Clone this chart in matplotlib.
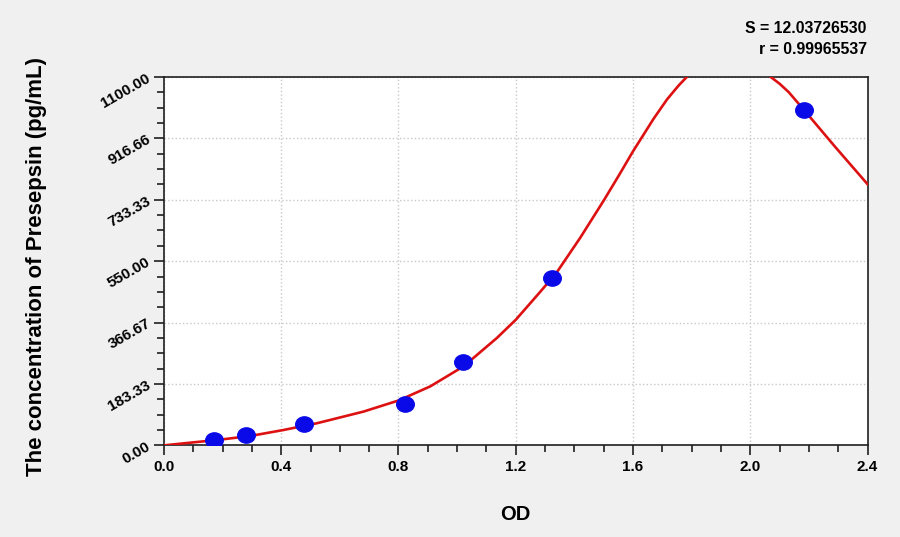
import matplotlib
matplotlib.use("Agg")
import matplotlib.pyplot as plt
from matplotlib.ticker import MultipleLocator, FixedLocator
from matplotlib.markers import MarkerStyle
from matplotlib.transforms import Affine2D

# standards: measured OD vs known concentration
od = [0.171, 0.279, 0.478, 0.822, 1.021, 1.325, 2.182]
conc = [15.625, 31.25, 62.5, 125, 250, 500, 1000]

# fitted curve (goes above the axis top near the peak)
curve_od = [0.0, 0.066, 0.180, 0.294, 0.408, 0.521, 0.567, 0.681, 0.800, 0.908,
            1.022, 1.136, 1.200, 1.284, 1.341, 1.420, 1.500, 1.551, 1.600, 1.670,
            1.716, 1.756, 1.790, 1.860, 1.930, 2.000, 2.061, 2.100, 2.131, 2.182,
            2.290, 2.401]
curve_conc = [0, 6, 16, 28, 46, 66, 76, 101, 134, 176,
              236, 321, 375, 459, 518, 620, 731, 805, 878, 975,
              1033, 1075, 1106, 1150, 1165, 1145, 1106, 1080, 1055, 1003,
              891, 779]

yticks = [0, 183.33, 366.67, 550, 733.33, 916.66, 1100]
ytick_labels = ['0.00', '183.33', '366.67', '550.00', '733.33', '916.66', '1100.00']

plt.rcParams['font.family'] = ['Liberation Sans', 'DejaVu Sans']
plt.rcParams['font.weight'] = 'bold'

fig = plt.figure(figsize=(9, 5.37), dpi=100, facecolor='#f0f0f0')
ax = fig.add_axes([0.1822, 0.1706, 0.7817, 0.686])

ax.plot(curve_od, curve_conc, color='#dd1111', lw=1.9, zorder=3)
dot = MarkerStyle('o', transform=Affine2D().scale(1.15, 1.0))
ax.plot(od, conc, linestyle='none', marker=dot, color='#0a0ae8', ms=11, zorder=4)

ax.set_xlim(0, 2.4)
ax.set_ylim(0, 1100)
ax.xaxis.set_major_locator(MultipleLocator(0.4))
ax.xaxis.set_minor_locator(MultipleLocator(0.1))
ax.yaxis.set_major_locator(FixedLocator(yticks))
ax.yaxis.set_minor_locator(MultipleLocator(1100 / 24))
ax.set_yticklabels(ytick_labels, rotation=30, ha='right', va='center',
                   rotation_mode='anchor', fontsize=11, fontweight='bold')
ax.set_xticklabels(['%.1f' % v for v in ax.get_xticks()], fontsize=11, fontweight='bold')
ax.tick_params(which='major', length=7, width=1.2, direction='out', color='#202020')
ax.tick_params(which='minor', length=5, width=1.2, direction='out', color='#202020')
ax.grid(True, which='major', color='#c8c8c8', linestyle=':', linewidth=1)
for s in ax.spines.values():
    s.set_linewidth(1.2)
    s.set_color('#202020')

ax.set_xlabel('OD', fontsize=14.5, fontweight='bold', labelpad=22)
ax.set_ylabel('The concentration of Presepsin (pg/mL)', fontsize=16, fontweight='bold', labelpad=37)
ax.yaxis.label.set_y(0.485)

fig.text(0.963, 0.938, 'S = 12.03726530', ha='right', va='baseline', fontsize=11.4, fontweight='bold')
fig.text(0.963, 0.899, 'r = 0.99965537', ha='right', va='baseline', fontsize=11.4, fontweight='bold')

fig.savefig('out.png', dpi=100, facecolor=fig.get_facecolor())
